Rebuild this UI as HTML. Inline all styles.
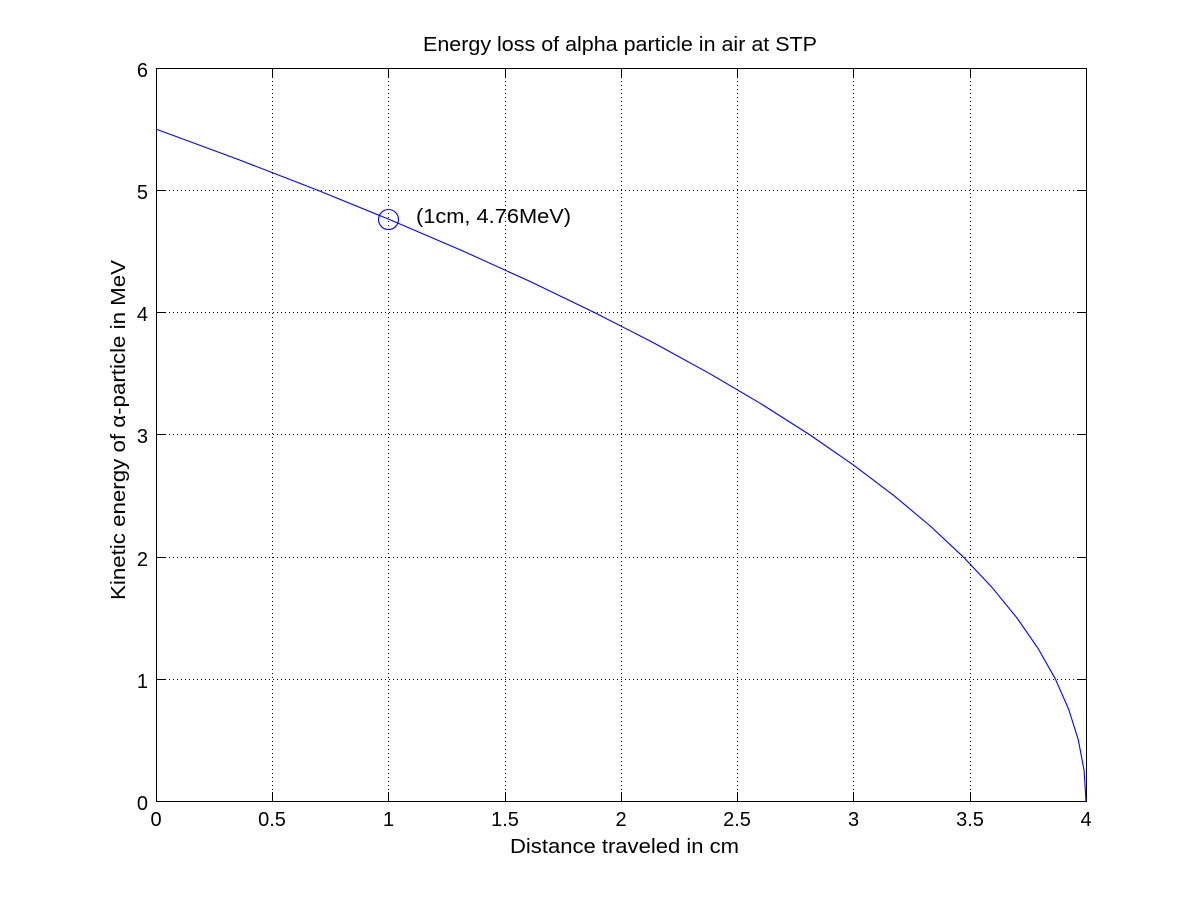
<!DOCTYPE html>
<html>
<head>
<meta charset="utf-8">
<style>
  html, body { margin: 0; padding: 0; background: #ffffff; }
  svg { display: block; }
  text { font-family: "Liberation Sans", Arial, sans-serif; fill: #000; }
</style>
</head>
<body>
<svg width="1200" height="900" viewBox="0 0 1200 900" xmlns="http://www.w3.org/2000/svg">
  <rect x="0" y="0" width="1200" height="900" fill="#ffffff"/>

  <!-- grid (dotted) -->
  <g stroke="#000" stroke-width="1" stroke-dasharray="1 3" shape-rendering="crispEdges" fill="none">
    <line x1="272.5" y1="69" x2="272.5" y2="801"/>
    <line x1="388.5" y1="69" x2="388.5" y2="801"/>
    <line x1="505.5" y1="69" x2="505.5" y2="801"/>
    <line x1="621.5" y1="69" x2="621.5" y2="801"/>
    <line x1="737.5" y1="69" x2="737.5" y2="801"/>
    <line x1="853.5" y1="69" x2="853.5" y2="801"/>
    <line x1="970.5" y1="69" x2="970.5" y2="801"/>
    <line x1="157" y1="679.5" x2="1086" y2="679.5"/>
    <line x1="157" y1="557.5" x2="1086" y2="557.5"/>
    <line x1="157" y1="434.5" x2="1086" y2="434.5"/>
    <line x1="157" y1="312.5" x2="1086" y2="312.5"/>
    <line x1="157" y1="190.5" x2="1086" y2="190.5"/>
  </g>

  <!-- axes box -->
  <rect x="156.5" y="68.5" width="930" height="733" fill="none" stroke="#000" stroke-width="1" shape-rendering="crispEdges"/>

  <!-- ticks -->
  <g stroke="#000" stroke-width="1" shape-rendering="crispEdges">
    <!-- bottom x ticks -->
    <line x1="272.5" y1="801" x2="272.5" y2="792"/>
    <line x1="388.5" y1="801" x2="388.5" y2="792"/>
    <line x1="505.5" y1="801" x2="505.5" y2="792"/>
    <line x1="621.5" y1="801" x2="621.5" y2="792"/>
    <line x1="737.5" y1="801" x2="737.5" y2="792"/>
    <line x1="853.5" y1="801" x2="853.5" y2="792"/>
    <line x1="970.5" y1="801" x2="970.5" y2="792"/>
    <!-- top x ticks -->
    <line x1="272.5" y1="69" x2="272.5" y2="78"/>
    <line x1="388.5" y1="69" x2="388.5" y2="78"/>
    <line x1="505.5" y1="69" x2="505.5" y2="78"/>
    <line x1="621.5" y1="69" x2="621.5" y2="78"/>
    <line x1="737.5" y1="69" x2="737.5" y2="78"/>
    <line x1="853.5" y1="69" x2="853.5" y2="78"/>
    <line x1="970.5" y1="69" x2="970.5" y2="78"/>
    <!-- left y ticks -->
    <line x1="157" y1="679.5" x2="166" y2="679.5"/>
    <line x1="157" y1="557.5" x2="166" y2="557.5"/>
    <line x1="157" y1="434.5" x2="166" y2="434.5"/>
    <line x1="157" y1="312.5" x2="166" y2="312.5"/>
    <line x1="157" y1="190.5" x2="166" y2="190.5"/>
    <!-- right y ticks -->
    <line x1="1086" y1="679.5" x2="1077" y2="679.5"/>
    <line x1="1086" y1="557.5" x2="1077" y2="557.5"/>
    <line x1="1086" y1="434.5" x2="1077" y2="434.5"/>
    <line x1="1086" y1="312.5" x2="1077" y2="312.5"/>
    <line x1="1086" y1="190.5" x2="1077" y2="190.5"/>
  </g>

  <!-- x tick labels -->
  <g font-size="20" text-anchor="middle">
    <text x="156" y="826">0</text>
    <text x="272" y="826">0.5</text>
    <text x="388.5" y="826">1</text>
    <text x="505" y="826">1.5</text>
    <text x="621" y="826">2</text>
    <text x="737" y="826">2.5</text>
    <text x="853.5" y="826">3</text>
    <text x="970" y="826">3.5</text>
    <text x="1086" y="826">4</text>
  </g>

  <!-- y tick labels -->
  <g font-size="20" text-anchor="end">
    <text x="148" y="810">0</text>
    <text x="148" y="688">1</text>
    <text x="148" y="566">2</text>
    <text x="148" y="443">3</text>
    <text x="148" y="321">4</text>
    <text x="148" y="199">5</text>
    <text x="148" y="77">6</text>
  </g>

  <!-- curve -->
  <polyline fill="none" stroke="#0000ff" stroke-width="1.1" stroke-linejoin="round"
    points="156,129.08 238.62,159.63 317.40,190.17 392.34,220.71 463.44,251.25 530.69,281.79 594.10,312.33 653.67,342.88 709.39,373.42 761.27,403.96 809.31,434.5 853.5,465.04 893.85,495.58 930.36,526.13 963.02,556.67 991.85,587.21 1016.83,617.75 1037.96,648.29 1055.26,678.83 1068.71,709.38 1078.31,739.92 1084.08,770.46 1086,801"/>

  <!-- marker -->
  <circle cx="388.5" cy="219.5" r="10" fill="none" stroke="#0000ff" stroke-width="1.1"/>

  <!-- annotation -->
  <text x="416" y="223" font-size="20" textLength="155" lengthAdjust="spacingAndGlyphs">(1cm, 4.76MeV)</text>

  <!-- title -->
  <text x="423" y="51" font-size="20" textLength="394" lengthAdjust="spacingAndGlyphs">Energy loss of alpha particle in air at STP</text>

  <!-- x label -->
  <text x="510" y="853" font-size="20" textLength="229" lengthAdjust="spacingAndGlyphs">Distance traveled in cm</text>

  <!-- y label -->
  <text transform="translate(125,600) rotate(-90)" x="0" y="0" font-size="20" textLength="340" lengthAdjust="spacingAndGlyphs">Kinetic energy of α-particle in MeV</text>
</svg>
</body>
</html>
